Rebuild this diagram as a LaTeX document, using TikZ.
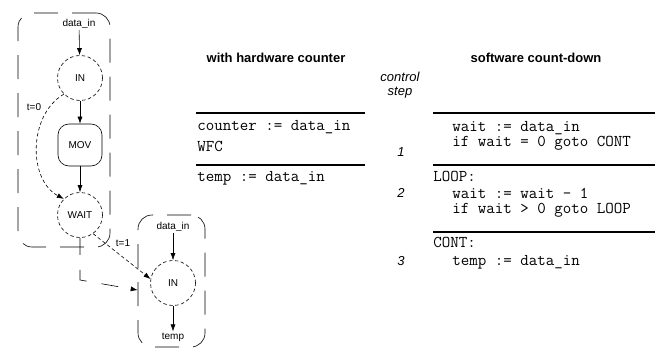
\documentclass[tikz,border=0pt]{standalone}
\usepackage{fontspec}
\setmainfont{Liberation Sans}
\usetikzlibrary{arrows.meta}

\begin{document}
\begin{tikzpicture}[
	x=1pt, y=-1pt,
	line width=0.6pt,
	>={Latex[length=7pt,width=5pt]},
	op/.style={
		draw, circle, dash pattern=on 3.5pt off 2.5pt,
		minimum size=45pt, inner sep=0pt,
		font=\fontsize{10}{12}\selectfont
	},
	instr/.style={
		draw, rounded corners=11pt,
		minimum width=44pt, minimum height=42pt,
		font=\fontsize{10}{12}\selectfont
	},
	port/.style={font=\fontsize{10}{12}\selectfont, inner sep=1pt},
	group/.style={draw, dash pattern=on 24pt off 14pt, rounded corners=14pt},
	edge/.style={->},
	wait edge/.style={->, dash pattern=on 3.5pt off 2.5pt},
	seq edge/.style={->, dash pattern=on 17pt off 15pt},
	tlbl/.style={font=\fontsize{10}{12}\selectfont, inner sep=1pt},
	head/.style={font=\fontsize{13}{15}\bfseries},
	steplbl/.style={font=\fontsize{13}{15}\itshape},
	code/.style={font=\fontsize{16.5}{18}\ttfamily, anchor=base west, inner sep=0pt},
	rule/.style={line width=1.6pt},
	]
	\useasboundingbox (0,0) rectangle (661,350);

	% first state: input, wait counter, wait
	\node[group, minimum width=92pt, minimum height=234pt] (grp1) at (64,130) {};
	\node[port] (din1) at (79,24) {data\_in};
	\node[op] (in1) at (80,78) {IN};
	\node[instr] (mov) at (80,145) {MOV};
	\node[op] (wait) at (80,215) {WAIT};

	\draw[edge] (din1) -- (in1);
	\draw[edge] (in1) -- (mov);
	\draw[edge] (mov) -- (wait);
	\draw[wait edge] (in1.225) .. controls (28,115) and (28,180) .. (wait.135);
	\node[tlbl] at (34,107) {t=0};

	% second state: input after the wait
	\node[group, minimum width=67pt, minimum height=132pt] (grp2) at (171.5,281) {};
	\node[port] (din2) at (173,227) {data\_in};
	\node[op] (in2) at (173,283) {IN};
	\node[port] (temp) at (173,337) {temp};

	\draw[edge] (din2) -- (in2);
	\draw[edge] (in2) -- (temp);
	\draw[wait edge] (wait.-55) -- (in2.170);
	\node[tlbl] at (123,243) {t=1};

	% WAIT -> second state
	\coordinate (bend) at (80,280);
	\draw[seq edge] (wait.south) -- (bend) -- (grp2.195);

	% table: hardware counter
	\node[head] at (276,58) {with hardware counter};
	\draw[rule] (196,113) -- (365,113);
	\draw[rule] (196,165) -- (365,165);
	\node[code] at (197,130.5) {counter := data\_in};
	\node[code] at (197,151) {WFC};
	\node[code] at (197,181.5) {temp := data\_in};

	% control steps
	\node[steplbl] at (400,77) {control};
	\node[steplbl] at (400,93) {step};
	\node[steplbl] at (401,152) {1};
	\node[steplbl] at (401,193) {2};
	\node[steplbl] at (401,261) {3};

	% table: software count-down
	\node[head] at (536,58) {software count-down};
	\draw[rule] (433,113) -- (655,113);
	\draw[rule] (433,165) -- (655,165);
	\draw[rule] (433,232) -- (655,232);
	\node[code] at (452,131.5) {wait := data\_in};
	\node[code] at (452,146.5) {if wait = 0 goto CONT};
	\node[code] at (433,181) {LOOP:};
	\node[code] at (452,198.5) {wait := wait - 1};
	\node[code] at (452,213.5) {if wait > 0 goto LOOP};
	\node[code] at (433,247.5) {CONT:};
	\node[code] at (452,265.5) {temp := data\_in};

\end{tikzpicture}
\end{document}
